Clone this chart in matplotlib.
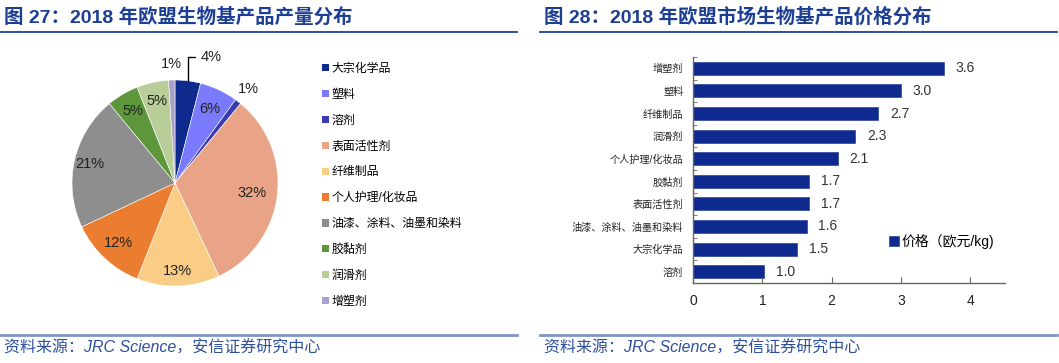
import numpy as np
import matplotlib

matplotlib.use("Agg")
import matplotlib.pyplot as plt
from matplotlib.patches import Patch
from matplotlib.lines import Line2D

plt.rcParams["font.family"] = ["Liberation Sans", "Noto Sans CJK SC", "DejaVu Sans"]

# pie: 2018 EU bio-based product output share (%)
pie_labels = ["大宗化学品", "塑料", "溶剂", "表面活性剂", "纤维制品",
              "个人护理/化妆品", "油漆、涂料、油墨和染料", "胶黏剂", "润滑剂", "增塑剂"]
pie_values = [4, 6, 1, 32, 13, 12, 21, 5, 5, 1]
pie_colors = ["#0e2a8c", "#7a7afc", "#3a3db2", "#e9a487", "#f9cd86",
              "#ea7d30", "#8e8e8e", "#5e963b", "#b8cd97", "#a9a1c9"]

# bar: 2018 EU market price of bio-based products (EUR/kg)
bar_labels = ["增塑剂", "塑料", "纤维制品", "润滑剂", "个人护理/化妆品",
              "胶黏剂", "表面活性剂", "油漆、涂料、油墨和染料", "大宗化学品", "溶剂"]
bar_values = [3.62, 3.0, 2.67, 2.34, 2.09, 1.68, 1.68, 1.64, 1.5, 1.03]

title_color = "#1c3f94"
foot_color = "#2d4f9e"
W, H = 1059, 363

fig = plt.figure(figsize=(W / 100, H / 100), dpi=100)


def px(x0, y0, w, h):
    return [x0 / W, 1 - (y0 + h) / H, w / W, h / H]


# headers / footers
for x0, x1, t in [(0, 517, "图 27：2018 年欧盟生物基产品产量分布"),
                  (540, 1057, "图 28：2018 年欧盟市场生物基产品价格分布")]:
    fig.text((x0 + 4) / W, 1 - 17 / H, t, fontsize=14, fontweight="bold",
             color=title_color, va="center", ha="left")
    fig.add_artist(Line2D([x0 / W, x1 / W], [1 - 32 / H] * 2, color=title_color, lw=1.3))
    fig.add_artist(Line2D([x0 / W, x1 / W], [1 - 335 / H] * 2, color="#7f95c9", lw=2))
    fig.text((x0 + 4) / W, 1 - 348 / H, "资料来源：JRC Science，安信证券研究中心",
             fontsize=11.5, style="italic", color=foot_color, va="center", ha="left")

# ---- pie ----
r_px = 103
axp = fig.add_axes(px(175 - r_px, 183 - r_px, 2 * r_px, 2 * r_px))
wedges, _ = axp.pie(pie_values, colors=pie_colors, startangle=90, counterclock=False,
                    radius=1, wedgeprops=dict(linewidth=0.4, edgecolor="white"))
axp.set_xlim(-1, 1)
axp.set_ylim(-1, 1)
axp.set_aspect("equal")
axp.axis("off")

total = sum(pie_values)
cum = np.cumsum([0] + pie_values)
label_r = [None, 0.79, 1.16, 0.75, 0.85, 0.8, 0.85, 0.81, 0.82, 1.16]
for i, v in enumerate(pie_values):
    mid = np.deg2rad(90 - 360 * (cum[i] + v / 2) / total)
    txt = f"{v}%"
    if label_r[i] is None:
        x, y = np.cos(mid), np.sin(mid)
        axp.annotate(txt, xy=(x, y), xytext=(x + 0.12, 1.22), fontsize=10.5,
                     color="#222222", ha="left", va="center", annotation_clip=False,
                     arrowprops=dict(arrowstyle="-", color="black", lw=1,
                                     shrinkA=2, shrinkB=0,
                                     connectionstyle="angle,angleA=0,angleB=90,rad=0"))
    else:
        r = label_r[i]
        axp.text(r * np.cos(mid), r * np.sin(mid), txt, fontsize=10.5, color="#222222",
                 ha="center", va="center")

handles = [Patch(facecolor=c, edgecolor="none") for c in pie_colors]
fig.legend(handles, pie_labels, loc="upper left", bbox_to_anchor=(322 / W, 1 - 63 / H),
           frameon=False, fontsize=8.6, handlelength=0.55, handleheight=0.55,
           handletextpad=0.25, labelspacing=1.16, borderpad=0, borderaxespad=0)

# ---- bar ----
axb = fig.add_axes(px(693, 57, 312, 226))
ypos = np.arange(len(bar_values))[::-1]
axb.barh(ypos, bar_values, height=0.58, color="#0f2a8e", edgecolor="#2a44a0",
         linewidth=0.5, label="价格（欧元/kg)")
for yy, v in zip(ypos, bar_values):
    axb.text(v + 0.17, yy, f"{v:.1f}", va="center", ha="left", fontsize=10, color="#333333")
axb.set_xlim(0, 4.5)
axb.set_ylim(-0.5, len(bar_values) - 0.5)
axb.set_xticks([0, 1, 2, 3, 4])
axb.set_yticks(ypos)
axb.set_yticklabels(bar_labels, fontsize=7.3)
axb.set_yticks(np.arange(-0.5, len(bar_values), 1), minor=True)
axb.tick_params(axis="x", direction="in", length=4, pad=8, labelsize=10,
                color="#666666", labelcolor="#222222")
axb.tick_params(axis="y", which="major", length=0, pad=7, labelcolor="#222222")
axb.tick_params(axis="y", which="minor", direction="in", length=3, color="#666666")
for s in ["top", "right"]:
    axb.spines[s].set_visible(False)
for s in ["left", "bottom"]:
    axb.spines[s].set_color("#666666")
    axb.spines[s].set_linewidth(1)
axb.legend(loc="center left", bbox_to_anchor=((889 - 693) / 312, (283 - 241) / 226),
           frameon=False, fontsize=10, handlelength=0.7, handleheight=0.7,
           handletextpad=0.2, borderpad=0, borderaxespad=0)

fig.savefig("out.png", dpi=100)
